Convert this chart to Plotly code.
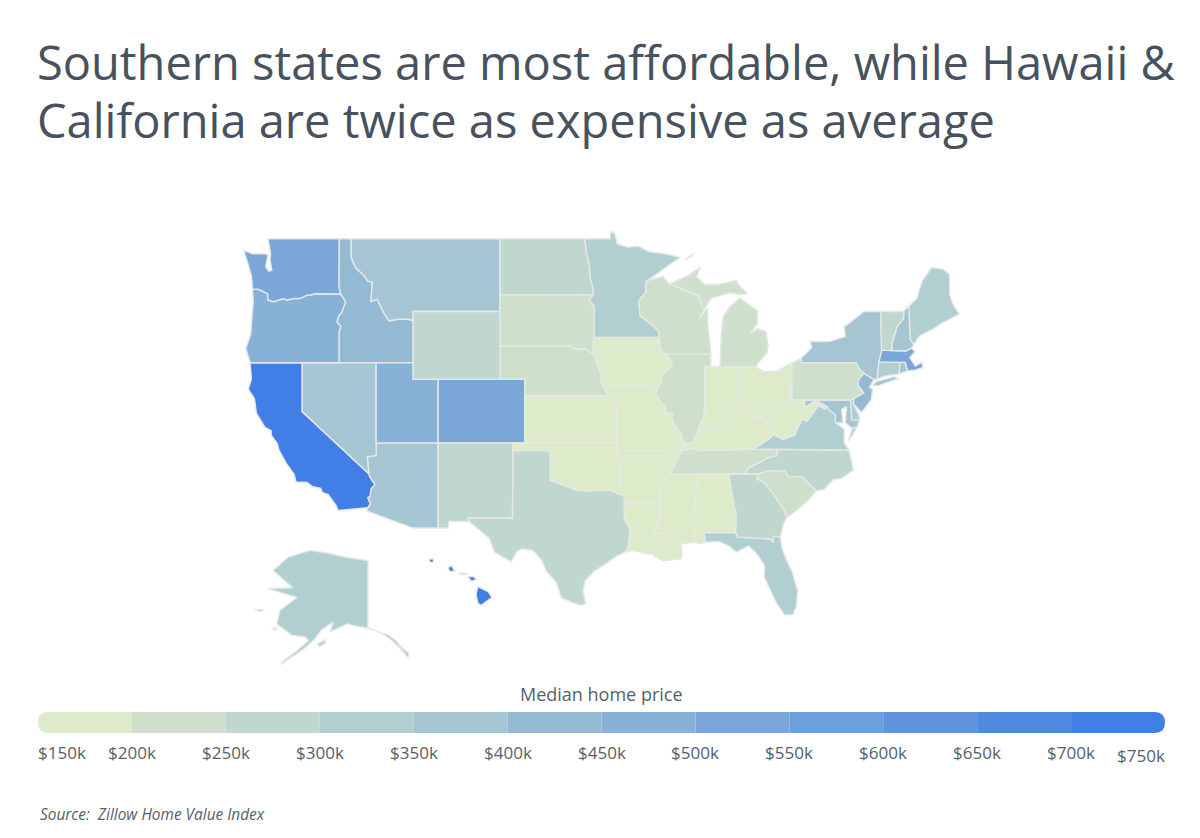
import math
import plotly.graph_objects as go

# ---------- data ----------
state_names = ["AL","AK","AZ","AR","CA","CO","CT","DE","DC","FL","GA","HI","ID","IL","IN","IA","KS","KY","LA","ME","MD","MA","MI","MN","MS","MO","MT","NE","NV","NH","NJ","NM","NY","NC","ND","OH","OK","OR","PA","RI","SC","SD","TN","TX","UT","VT","VA","WA","WV","WI","WY"]
median_price_k = [175,325,375,175,725,525,325,325,425,325,275,725,425,225,175,175,175,175,175,325,375,525,225,325,175,175,375,225,375,375,425,275,375,275,275,175,175,475,225,375,225,225,225,275,475,275,325,525,175,225,275]
bin_edges_k = [150,200,250,300,350,400,450,500,550,600,650,700,750]
bin_colors = ["#DDEBCB","#CEE0CB","#BFD7CF","#B1CED0","#A5C5D3","#94B9D3","#87B1D6","#7BA7D8","#6E9EDB","#6093DC","#4F8AE0","#417EE5"]
tick_labels = ["$150k","$200k","$250k","$300k","$350k","$400k","$450k","$500k","$550k","$600k","$650k","$700k","$750k"]

TITLE_LINES = ["Southern states are most affordable, while Hawaii &", "California are twice as expensive as average"]
LEGEND_TITLE = "Median home price"
SOURCE = "Source:  Zillow Home Value Index"
TEXT = "#47525E"
TICK_TEXT = "#555F69"
BORDER = "#E6E8E8"

# ---------- base-map outlines (lon, lat), simplified ----------
ID_MT = [(-116.05,49),(-116.05,48.0),(-115.7,47.45),(-115.0,47.0),(-114.7,46.7),(-114.35,46.65),(-114.45,45.55),(-113.95,45.7),(-113.45,44.95),(-113.0,44.45),(-112.3,44.55),(-111.5,44.55),(-111.05,44.48)]
OR_ID = [(-117.03,42),(-117.03,43.8),(-116.9,44.15),(-117.2,44.4),(-117.05,44.75),(-116.85,44.9),(-116.5,45.55),(-116.92,45.99)]
WA_OR = [(-116.92,45.99),(-118.98,46.0),(-119.3,45.93),(-119.6,45.92),(-120.2,45.73),(-120.65,45.74),(-121.2,45.65),(-121.55,45.72),(-122.0,45.6),(-122.3,45.55),(-122.76,45.65),(-122.8,46.0),(-123.2,46.15),(-123.55,46.25),(-124.0,46.25)]
CA_AZ = [(-114.63,35.0),(-114.57,34.8),(-114.15,34.27),(-114.45,34.0),(-114.53,33.5),(-114.72,33.4),(-114.5,33.0),(-114.72,32.72)]
ND_MN = [(-97.23,49),(-97.1,48.3),(-96.85,47.6),(-96.8,46.9),(-96.55,46.3),(-96.56,45.93)]
SD_MN = [(-96.56,45.93),(-96.85,45.6),(-96.45,45.3),(-96.45,43.5)]
SD_IA = [(-96.45,43.5),(-96.6,43.1),(-96.45,42.49)]
SD_NE = [(-104.05,43),(-98.5,43),(-97.9,42.8),(-97.2,42.85),(-96.45,42.49)]
NE_IA = [(-96.45,42.49),(-96.1,41.7),(-95.9,41.2),(-95.85,40.7),(-95.77,40.58)]
NE_MO = [(-95.77,40.58),(-95.31,40.0)]
KS_MO = [(-95.31,40.0),(-94.9,39.8),(-95.1,39.55),(-94.6,39.12),(-94.62,37)]
OK_AR = [(-94.62,36.5),(-94.43,35.4),(-94.48,33.64)]
RED_RIVER = [(-94.48,33.64),(-95.2,33.9),(-96.0,33.85),(-96.9,33.85),(-97.9,33.9),(-98.5,34.1),(-99.2,34.3),(-100,34.56)]
TX_LA = [(-94.04,33.02),(-94.04,31.99),(-93.55,31.2),(-93.7,30.1),(-93.85,29.7)]
MS_RIVER_UP = [(-91.22,43.5),(-91.1,42.7),(-90.65,42.5)]
IA_IL = [(-90.65,42.5),(-90.15,42.0),(-90.3,41.75),(-91.05,41.2),(-91.0,40.8),(-91.42,40.38)]
MO_IL = [(-91.42,40.38),(-91.5,40.0),(-90.75,39.3),(-90.7,38.95),(-90.15,38.85),(-90.2,38.4),(-89.5,37.7),(-89.4,37.3),(-89.13,36.98)]
AR_MS = [(-90.3,35.0),(-90.6,34.7),(-91.1,33.9),(-91.17,33.0)]
MO_TN = [(-89.13,36.98),(-89.4,36.5),(-89.7,36.0),(-90.3,35.0)]
LA_MS = [(-91.17,33.0),(-91.0,32.5),(-91.6,31.0),(-89.73,31.0),(-89.85,30.65),(-89.55,30.2)]
MS_AL = [(-88.2,35),(-88.1,34.9),(-88.47,31.9),(-88.4,30.35)]
AL_GA = [(-85.6,34.98),(-85.18,32.87),(-85.0,32.3),(-85.05,31.0)]
GA_FL = [(-85.05,31.0),(-84.86,30.7),(-82.2,30.57),(-82.05,30.35),(-82.0,30.75),(-81.45,30.72)]
GA_SC = [(-83.1,35.0),(-83.35,34.7),(-82.6,34.3),(-81.9,33.5),(-81.1,32.5),(-80.9,32.05)]
NC_SC = [(-83.1,35.0),(-82.4,35.2),(-81.05,35.15),(-80.8,34.82),(-79.67,34.8),(-78.55,33.85)]
TN_NC = [(-84.32,35),(-84.0,35.4),(-83.1,35.75),(-82.6,36.0),(-81.7,36.2),(-81.68,36.59)]
OH_RIVER_E = [(-82.6,38.42),(-83.0,38.72),(-83.7,38.63),(-84.3,38.95),(-84.82,39.1)]
IN_KY = [(-84.82,39.1),(-85.4,38.73),(-85.8,38.27),(-86.5,37.95),(-87.1,37.8),(-87.6,37.95)]
IL_KY = [(-88.05,37.8),(-88.45,37.07),(-89.13,36.98)]
IL_IN = [(-87.55,41.76),(-87.53,39.35),(-87.6,38.7),(-87.95,38.1),(-88.05,37.8)]
KY_VA = [(-83.68,36.6),(-83.1,36.85),(-82.3,37.3),(-81.97,37.54)]
KY_WV = [(-81.97,37.54),(-82.6,38.17),(-82.6,38.42)]
OH_WV = [(-82.6,38.42),(-82.2,38.6),(-81.7,39.2),(-80.85,39.7),(-80.65,40.4),(-80.52,40.64)]
WV_VA = [(-77.72,39.32),(-77.83,39.13),(-78.35,39.4),(-78.9,38.8),(-79.3,38.4),(-79.7,38.55),(-80.3,37.5),(-81.25,37.25),(-81.97,37.54)]
MD_WV = [(-79.48,39.72),(-79.48,39.2),(-78.8,39.6),(-78.35,39.6),(-77.72,39.32)]
VA_MD = [(-77.72,39.32),(-77.5,39.1),(-77.04,38.8),(-77.0,38.3)]
MN_WI = [(-92.1,46.75),(-92.3,46.65),(-92.29,46.1),(-92.85,45.6),(-92.75,44.75),(-91.9,44.3),(-91.25,43.85),(-91.22,43.5)]
NY_PA = [(-79.76,42.27),(-79.76,42),(-75.35,42),(-75.05,41.6),(-74.7,41.36)]
NJ_PA = [(-74.7,41.36),(-75.13,40.98),(-75.2,40.65),(-74.72,40.15),(-75.5,39.83)]
VT_NH = [(-71.5,45.01),(-71.5,44.6),(-72.05,44.1),(-72.45,43.1),(-72.46,42.73)]

def r(seg):
    return list(reversed(seg))

outlines = {
 "WA": [[(-122.76,49),(-117.03,49),(-117.04,46.42)] + WA_OR + [(-124.07,46.7),(-124.1,47.0),(-124.4,47.7),(-124.73,48.38),(-124.0,48.2),(-123.1,48.2),(-122.75,48.15),(-122.95,47.5),(-122.7,47.25),(-122.45,47.3),(-122.6,47.9),(-122.55,48.2)]],
 "OR": [OR_ID + WA_OR + [(-123.95,45.5),(-124.05,44.7),(-124.15,43.7),(-124.55,42.85),(-124.2,42)]],
 "ID": [[(-117.03,49)] + ID_MT + [(-111.05,42)] + OR_ID + [(-117.04,46.42)]],
 "CA": [[(-124.2,42),(-120,42),(-120,39)] + CA_AZ + [(-117.12,32.53),(-117.25,32.85),(-117.9,33.6),(-118.4,33.75),(-118.5,34.03),(-119.2,34.15),(-119.6,34.42),(-120.5,34.45),(-120.65,34.95),(-121.3,35.7),(-121.9,36.6),(-122.0,36.95),(-122.5,37.5),(-122.5,37.8),(-123.0,38.0),(-123.7,38.9),(-123.85,39.8),(-124.35,40.4),(-124.1,41.0)]],
 "NV": [[(-120,42),(-114.04,42),(-114.04,36.2),(-114.75,36.1),(-114.63,35.0),(-120,39)]],
 "UT": [[(-114.04,42),(-111.05,42),(-111.05,41),(-109.05,41),(-109.05,37),(-114.04,37)]],
 "AZ": [[(-114.04,37),(-109.05,37),(-109.05,31.33),(-111.07,31.33),(-114.8,32.5)] + r(CA_AZ) + [(-114.75,36.1),(-114.04,36.2)]],
 "MT": [ID_MT + [(-111.05,45),(-104.05,45),(-104.05,49)]],
 "WY": [[(-111.05,45),(-104.05,45),(-104.05,41),(-111.05,41)]],
 "CO": [[(-109.05,41),(-102.05,41),(-102.05,37),(-109.05,37)]],
 "NM": [[(-109.05,37),(-103.0,37),(-103.04,32),(-106.62,32),(-106.53,31.78),(-108.2,31.78),(-108.2,31.33),(-109.05,31.33)]],
 "ND": [[(-104.05,49)] + ND_MN + [(-104.05,45.94)]],
 "SD": [[(-104.05,45.94)] + SD_MN + SD_IA + r(SD_NE)],
 "NE": [SD_NE + NE_IA + NE_MO + [(-102.05,40),(-102.05,41),(-104.05,41)]],
 "KS": [[(-102.05,40)] + KS_MO + [(-102.05,37)]],
 "OK": [[(-103,37),(-94.62,37)] + OK_AR + RED_RIVER + [(-100,36.5),(-103,36.5)]],
 "TX": [[(-103,36.5),(-100,36.5)] + r(RED_RIVER) + [(-94.04,33.55)] + TX_LA + [(-94.7,29.35),(-95.4,28.9),(-96.4,28.35),(-97.2,27.6),(-97.35,26.9),(-97.15,25.96),(-97.5,25.85),(-98.2,26.05),(-99.1,26.4),(-99.5,27.5),(-100.3,28.3),(-100.7,29.1),(-101.4,29.77),(-102.3,29.87),(-102.7,29.7),(-103.15,28.98),(-104.5,29.65),(-104.9,30.6),(-106.53,31.78),(-106.62,32),(-103.04,32)]],
 "MN": [ND_MN[:1] + [(-95.15,49),(-95.15,49.38),(-94.8,49.3),(-94.6,48.72),(-93.8,48.55),(-92.9,48.6),(-92.0,48.3),(-90.8,48.2),(-89.5,48.0),(-90.5,47.55)] + MN_WI + r(SD_MN) + r(ND_MN)],
 "IA": [[(-96.45,43.5)] + MS_RIVER_UP + IA_IL + [(-91.73,40.61),(-95.77,40.58)] + r(NE_IA) + r(SD_IA)],
 "MO": [[(-95.77,40.58),(-91.73,40.61)] + MO_IL + MO_TN[:3] + [(-90.38,36),(-90.15,36.5),(-94.62,36.5)] + r(KS_MO) + r(NE_MO)],
 "AR": [[(-94.62,36.5),(-90.15,36.5),(-90.38,36),(-89.7,36.0),(-90.3,35.0)] + AR_MS[1:] + [(-94.04,33.02),(-94.04,33.55),(-94.48,33.64),(-94.43,35.4)]],
 "LA": [TX_LA[:1] + LA_MS + [(-89.4,30.0),(-89.4,29.2),(-90.1,29.15),(-90.9,29.05),(-91.8,29.5),(-92.3,29.55),(-93.2,29.77)] + r(TX_LA)],
 "MS": [AR_MS + LA_MS[1:] + [(-88.4,30.35)] + r(MS_AL)],
 "AL": [MS_AL[:1] + [(-85.6,34.98)] + AL_GA[1:] + [(-87.6,31),(-87.45,30.35),(-87.9,30.25)] + r(MS_AL)],
 "FL": [[(-87.6,31)] + GA_FL + [(-81.3,29.9),(-80.9,29.0),(-80.5,28.3),(-80.05,26.9),(-80.15,25.8),(-80.4,25.2),(-81.1,25.15),(-81.8,26.1),(-82.2,26.9),(-82.75,27.9),(-82.7,28.7),(-83.4,29.6),(-84.0,30.1),(-85.0,29.65),(-85.6,30.1),(-86.4,30.4),(-87.45,30.35)]],
 "GA": [AL_GA[:1] + GA_SC + [(-81.15,31.7)] + r(GA_FL) + r(AL_GA)],
 "SC": [NC_SC + [(-79.2,33.2),(-79.9,32.7)] + r(GA_SC)],
 "NC": [[(-84.32,35)] + NC_SC + [(-77.9,33.95),(-77.2,34.6),(-76.5,34.7),(-75.55,35.25),(-75.9,36.55)] + r(TN_NC)],
 "TN": [MS_AL[:1] + [(-85.6,34.98)] + TN_NC + [(-83.68,36.6),(-88.07,36.5),(-88.07,36.68),(-89.4,36.5),(-89.7,36.0),(-90.3,35.0)]],
 "KY": [[(-89.4,36.5),(-88.07,36.68),(-88.07,36.5)] + KY_VA + KY_WV + OH_RIVER_E + IN_KY + IL_KY],
 "IL": [[(-90.65,42.5),(-87.05,42.5),(-87.05,41.76)] + IL_IN + IL_KY[1:] + r(MO_IL) + r(IA_IL)],
 "IN": [[(-87.55,41.76),(-84.8,41.76)] + IN_KY + [(-88.05,37.8)] + r(IL_IN)],
 "OH": [[(-84.8,41.76),(-83.45,41.73),(-82.7,41.45),(-81.7,41.5),(-80.52,41.98),(-80.52,40.64)] + r(OH_WV) + OH_RIVER_E[1:]],
 "MI": [[(-86.3,41.76),(-84.8,41.76),(-83.45,41.73),(-83.15,42.05),(-82.5,42.6),(-82.42,43.0),(-82.6,43.85),(-83.3,44.0),(-83.9,43.7),(-83.3,44.3),(-83.3,45.05),(-84.7,45.75),(-85.5,45.3),(-86.05,44.7),(-86.2,43.8),(-86.25,42.8)],
        [(-90.4,46.55),(-88.1,45.9),(-87.6,45.1),(-87.0,45.75),(-85.5,46.05),(-84.75,45.95),(-84.1,46.0),(-84.8,46.5),(-85.0,46.75),(-86.5,46.5),(-87.5,46.5),(-88.2,46.95),(-87.9,47.47),(-88.9,47.0)],
        [(-89.2,47.85),(-88.4,48.25),(-88.6,48.05)]],
 "WI": [[(-92.1,46.75),(-90.9,46.95),(-90.4,46.55),(-88.1,45.9),(-87.6,45.1),(-88.0,44.55),(-87.3,45.2),(-87.3,44.3),(-87.1,43.0),(-87.05,42.5),(-90.65,42.5),(-91.1,42.7),(-91.22,43.5)] + r(MN_WI)[1:]],
 "WV": [[(-80.52,40.64),(-80.52,39.72)] + MD_WV + WV_VA[1:] + KY_WV[1:] + OH_WV[1:-1]],
 "VA": [[(-83.68,36.6),(-81.68,36.59),(-75.9,36.55),(-76.3,37.0),(-76.3,37.9)] + r(VA_MD) + WV_VA[1:] + r(KY_VA)[1:],
        [(-75.24,38.03),(-75.65,37.95),(-75.95,37.15),(-75.7,37.4)]],
 "MD": [[(-79.48,39.72),(-75.79,39.72),(-75.7,38.46),(-75.05,38.45),(-75.24,38.03),(-75.65,37.95),(-76.2,38.3),(-76.1,39.3),(-76.5,39.15),(-76.4,38.3)] + r(VA_MD) + r(MD_WV)[1:]],
 "DE": [[(-75.79,39.72),(-75.5,39.83),(-75.55,39.5),(-75.1,38.8),(-75.05,38.45),(-75.7,38.46)]],
 "DC": [[(-77.12,38.93),(-77.04,39.0),(-76.91,38.89),(-77.04,38.79)]],
 "PA": [[(-80.52,41.98)] + NY_PA + NJ_PA + [(-75.79,39.72),(-80.52,39.72),(-80.52,40.64)]],
 "NY": [NY_PA + [(-73.9,41.0),(-73.65,41.0),(-73.5,42.05),(-73.27,42.75),(-73.35,45.0),(-74.7,45.0),(-75.8,44.4),(-76.3,44.1),(-76.2,43.55),(-77.5,43.25),(-79.05,43.27),(-78.9,42.9)],
        [(-74.0,40.6),(-73.75,40.85),(-72.3,41.15),(-71.9,41.05),(-73.6,40.6)]],
 "NJ": [[(-74.7,41.36),(-73.9,41.0),(-74.25,40.5),(-74.0,40.4),(-74.1,39.75),(-74.9,38.95),(-75.55,39.5)] + r(NJ_PA)],
 "CT": [[(-73.65,41),(-73.5,42.05),(-71.8,42.02),(-71.85,41.32),(-73.0,41.2)]],
 "RI": [[(-71.8,42.02),(-71.38,42.02),(-71.2,41.5),(-71.85,41.32)]],
 "MA": [[(-73.5,42.05),(-73.27,42.75),(-71.3,42.7),(-70.85,42.88),(-70.6,42.65),(-71.0,42.3),(-70.55,41.8),(-70.0,42.05),(-69.95,41.7),(-70.6,41.55),(-71.2,41.5),(-71.38,42.02),(-71.8,42.02)]],
 "VT": [[(-73.35,45)] + VT_NH + [(-73.27,42.75)]],
 "NH": [[(-71.5,45.01),(-71.08,45.3),(-70.98,43.4),(-70.7,43.07),(-70.85,42.88),(-71.3,42.7)] + r(VT_NH)[:-1]],
 "ME": [[(-71.08,45.3),(-70.4,45.75),(-70.25,46.2),(-70.0,46.7),(-69.23,47.46),(-68.3,47.35),(-67.8,47.07),(-67.78,45.93),(-67.45,45.3),(-67,44.85),(-68.5,44.3),(-69.1,44.0),(-70.2,43.6),(-70.7,43.07),(-70.98,43.4)]],
 "AK": [[(-156.6,71.3),(-152,71.0),(-147,70.5),(-141,70.1),(-141,60.3),(-139.6,60.0),(-137.5,59.4),(-136.5,59.3),(-135.3,59.0),(-133.5,58.0),(-131.8,56.6),(-130.0,55.6),(-130.2,54.6),(-131.2,55.6),(-133.0,57.0),(-134.5,58.0),(-136.5,59.0),(-138,59.6),(-139.5,60.0),(-142,60.4),(-146.6,61.0),(-149,60.3),(-151.2,59.6),(-150.4,61.3),(-153.5,60.0),(-155.5,58.2),(-158.5,56.3),(-164.5,53.3),(-164,53.9),(-160,56.2),(-157,58.0),(-157.8,58.7),(-161.4,59.0),(-165.5,61.0),(-164.7,63.2),(-160.1,65.2),(-167.9,66.5),(-161.2,66.6),(-166.5,68.9),(-162.5,70.5)],
        [(-171.5,63.4),(-168.8,63.3),(-170,63.0)],
        [(-167,60.2),(-165.5,60.3),(-165.8,59.9)],
        [(-154.6,57.4),(-152.5,58.2),(-152.5,57.5),(-154,56.9)]],
 "HI": [[(-155.9,20.25),(-155.1,19.9),(-154.8,19.5),(-155.65,18.95),(-155.9,19.1),(-156.05,19.7)],
        [(-156.7,20.95),(-156.25,20.95),(-156.0,20.75),(-156.4,20.6)],
        [(-157.3,21.2),(-156.75,21.15),(-156.75,21.05),(-157.3,21.1)],
        [(-158.25,21.55),(-157.95,21.7),(-157.7,21.3),(-158.1,21.3)],
        [(-159.75,22.1),(-159.4,22.2),(-159.35,21.95),(-159.6,21.9)]],
}

# ---------- projections ----------
def merc(lat):
    return math.log(math.tan(math.radians(45 + lat / 2)))

def project(code, lon, lat):
    if code == "AK":
        return 368 + (lon + 141) * 3.72, 628 + (merc(60.3) - merc(lat)) * 163
    if code == "HI":
        return 483 + (lon + 155.5) * 12.8, 596 - (lat - 19.6) * 14.5
    return 438 + (lon + 109.05) * 12.4, 238.7 + (merc(49) - merc(lat)) * 710

def bin_color(v):
    for i in range(len(bin_colors)):
        if bin_edges_k[i] <= v < bin_edges_k[i + 1]:
            return bin_colors[i]
    return bin_colors[-1]

fig = go.Figure()
for code, price in zip(state_names, median_price_k):
    xs, ys = [], []
    for poly in outlines[code]:
        for lon, lat in poly + poly[:1]:
            px, py = project(code, lon, lat)
            xs.append(px); ys.append(py)
        xs.append(None); ys.append(None)
    fig.add_trace(go.Scatter(x=xs, y=ys, mode="lines", fill="toself", fillcolor=bin_color(price),
                             line=dict(color=BORDER, width=1.4), name=code, showlegend=False,
                             hovertemplate=f"{code}: ${price}k<extra></extra>"))

# ---------- legend bar on its own price axis ----------
shapes = []
rad = 5.3
n = len(bin_colors)
for i, c in enumerate(bin_colors):
    a, b = bin_edges_k[i], bin_edges_k[i + 1]
    if i == 0:
        path = f"M {b} 0 L {a+rad} 0 Q {a} 0 {a} 0.5 Q {a} 1 {a+rad} 1 L {b} 1 Z"
    elif i == n - 1:
        path = f"M {a} 0 L {b-rad} 0 Q {b} 0 {b} 0.5 Q {b} 1 {b-rad} 1 L {a} 1 Z"
    else:
        path = f"M {a} 0 L {b} 0 L {b} 1 L {a} 1 Z"
    shapes.append(dict(type="path", path=path, xref="x2", yref="y2", fillcolor=c, line=dict(width=0)))

ann = []
for i, (v, t) in enumerate(zip(bin_edges_k, tick_labels)):
    anchor = "left" if i == 0 else ("right" if i == n else "center")
    shift = -2 if i == 0 else (2 if i == n else 0)
    ann.append(dict(x=v, y=755 if i == n else 752, xref="x2", yref="y", xshift=shift, text=t, showarrow=False,
                    xanchor=anchor, yanchor="middle", font=dict(family="Open Sans", size=17, color=TICK_TEXT)))
ann.append(dict(x=601, y=694, xref="x", yref="y", text=LEGEND_TITLE, showarrow=False, xanchor="center", yanchor="middle",
                font=dict(family="Open Sans", size=18, color=TICK_TEXT)))
for line, ypos in zip(TITLE_LINES, [62, 120]):
    ann.append(dict(x=35, y=ypos, xref="x", yref="y", text=line, showarrow=False, xanchor="left", yanchor="middle", align="left",
                    font=dict(family="Open Sans", size=47, color=TEXT)))
ann.append(dict(x=38, y=814, xref="x", yref="y", text=f"<i>{SOURCE}</i>", showarrow=False, xanchor="left", yanchor="middle",
                font=dict(family="Open Sans", size=15.4, color=TICK_TEXT)))

fig.add_trace(go.Scatter(x=[150, 750], y=[0, 1], xaxis="x2", yaxis="y2", mode="markers", marker=dict(opacity=0),
                         showlegend=False, hoverinfo="skip"))

# the page has an 8 px body margin: the plot covers window pixels 8..1192 x 8..830
W, H = 1184, 822
fig.update_layout(
    width=W, height=H, margin=dict(l=0, r=0, t=0, b=0), paper_bgcolor="white", plot_bgcolor="white",
    showlegend=False, shapes=shapes, annotations=ann,
    xaxis=dict(range=[8, 1192], visible=False, fixedrange=True),
    yaxis=dict(range=[830, 8], visible=False, fixedrange=True),
    xaxis2=dict(domain=[(38-8)/W, (1165-8)/W], range=[150, 750], visible=False, anchor="y2", fixedrange=True),
    yaxis2=dict(domain=[1 - (733-8)/H, 1 - (712-8)/H], range=[0, 1], visible=False, anchor="x2", fixedrange=True),
)
fig.write_html("out.html")
